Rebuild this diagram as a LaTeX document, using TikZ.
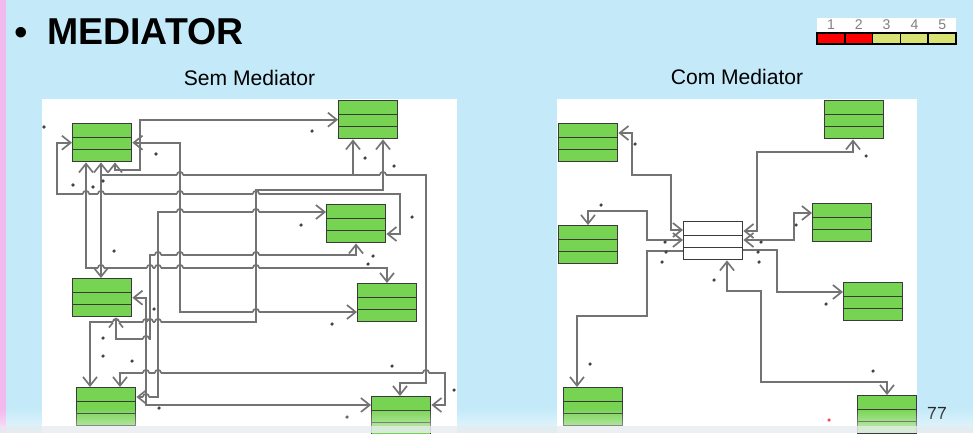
\documentclass[tikz,border=0pt]{standalone}
\usepackage{fontspec}
\setmainfont{Liberation Sans}
\usetikzlibrary{arrows.meta, calc}

\definecolor{slidebg}{HTML}{C4EAF9}
\definecolor{stripe}{HTML}{F2B9EE}
\definecolor{classgreen}{HTML}{77D452}
\definecolor{boxline}{HTML}{3A3A3A}
\definecolor{linkgray}{HTML}{737373}
\definecolor{dotgray}{HTML}{444444}
\definecolor{levelred}{HTML}{FF0000}
\definecolor{levelyellow}{HTML}{D8E374}
\definecolor{bottomband}{HTML}{E9EEF0}

% little jump where a connector crosses another
\newcommand\hop[2]{%
  \fill[white] (#1-3.4,#2-1.2) rectangle (#1+3.4,#2+1.2);
  \draw[link] (#1,#2-1.4) -- (#1,#2+1.4);
  \draw[link] (#1-3.2,#2) arc[start angle=180,end angle=0,radius=1.8pt];}

\begin{document}
\begin{tikzpicture}[x=0.02cm,y=-0.02cm,>={Straight Barb[length=5pt,width=8pt]},
  class node/.style={draw=boxline,fill=classgreen,line width=0.8pt,anchor=north west,
    inner sep=0pt,minimum width=1.18cm,minimum height=0.76cm,
    path picture={\draw[boxline,line width=0.8pt]
      ($(path picture bounding box.north west)!0.36!(path picture bounding box.south west)$) --
      ($(path picture bounding box.north east)!0.36!(path picture bounding box.south east)$)
      ($(path picture bounding box.north west)!0.68!(path picture bounding box.south west)$) --
      ($(path picture bounding box.north east)!0.68!(path picture bounding box.south east)$);}},
  mediator node/.style={class node,fill=white},
  link/.style={draw=linkgray,line width=0.95pt},
  heading/.style={font=\fontsize{12pt}{14pt}\selectfont,anchor=base}]
  \useasboundingbox (0,0) rectangle (973,433);
  % slide background
  \fill[slidebg] (0,0) rectangle (973,433);
  \fill[stripe] (0,0) rectangle (6,433);
  \fill[white] (42,99) rectangle (457,433);
  \fill[white] (557,99) rectangle (917,433);
  % title and level bar
  \node[font=\fontsize{22pt}{22pt}\selectfont,anchor=base,inner sep=0pt] (bullet) at (21,45) {•};
  \node[font=\bfseries\fontsize{21.3pt}{24pt}\selectfont,anchor=base west,inner sep=0pt] (title) at (47,44) {MEDIATOR};
  \fill[white] (817,18) rectangle (956,32);
  \foreach \i/\c/\n in {0/levelred/1,1/levelred/2,2/levelyellow/3,3/levelyellow/4,4/levelyellow/5} {
    \filldraw[fill=\c,draw=black,line width=0.9pt] ({817+\i*27.8},33) rectangle ({817+(\i+1)*27.8},44);
    \node[font=\fontsize{8pt}{9pt}\selectfont,text=black!50] (level\n) at ({831+\i*27.8},25) {\n};
  }
  \node[heading] (sem) at (249.5,85) {Sem Mediator};
  \node[heading] (com) at (737,84) {Com Mediator};

  % Sem Mediator
  \node[class node] (s1) at (72,123) {};
  \node[class node] (s2) at (338,100) {};
  \node[class node] (s3) at (326,204) {};
  \node[class node] (s4) at (72,278) {};
  \node[class node] (s5) at (357,283) {};
  \node[class node] (s6) at (76,387) {};
  \node[class node] (s7) at (371,396) {};
  \coordinate (sj) at (102,175);
  \coordinate (sk) at (353,175);
  \draw[link,<->] ($(s1.south west)+(43,0)$) |- (140,170) |- (s2.west);
  \draw[link,->] (sj) -| ($(s2.south west)+(15,0)$);
  \draw[link,->] (sk) -| (426,383) -| ($(s7.north west)+(29,0)$);
  \draw[link,<->] (s1.west) -| (57,194) -| (400,234) -- ($(s3.north east)+(0,30)$);
  \draw[link,<->] ($(s6.north west)+(44,0)$) |- (445,373) |- ($(s7.north east)+(0,9)$);
  \draw[link,<->] ($(s2.south west)+(45,0)$) |- (256,190) |- (90,322) -- ($(s6.north west)+(14,0)$);
  \draw[link,<->] ($(s3.north west)+(0,8)$) -| (158,397) -- ($(s6.north east)+(0,10)$);
  \draw[link,<->] ($(s3.south west)+(30,0)$) |- (150,255) |- (116,339) -- ($(s4.south west)+(44,0)$);
  \draw[link,<->] (s4.east) -| (146,405) -- ($(s7.north west)+(0,9)$);
  \draw[link,<->] ($(s1.south west)+(14,0)$) |- (387,268) -- ($(s5.north west)+(30,0)$);
  \draw[link,<->] (s1.east) -| (180,312) -- ($(s5.north west)+(0,29)$);
  \draw[link,<->] ($(s1.south west)+(29,0)$) -- ($(s4.north west)+(29,0)$);
  \foreach \x/\y in {180/175,383/175,86/194,101/194,180/194,256/194,180/212,256/212,
      158/255,180/255,256/255,101/268,150/268,158/268,180/268,256/268,256/312,
      116/322,146/322,150/322,158/322,146/339,146/373,158/373,426/373,146/397}
    \hop{\x}{\y};

  % Com Mediator
  \node[mediator node] (med) at (683,221) {};
  \node[class node] (c1) at (558,123) {};
  \node[class node] (c2) at (558,225) {};
  \node[class node] (c3) at (563,387) {};
  \node[class node] (c4) at (824,100) {};
  \node[class node] (c5) at (812,203) {};
  \node[class node] (c6) at (843,282) {};
  \node[class node] (c7) at (857,395) {};
  \draw[link,<->] ($(c1.north east)+(0,10)$) -| (632,175) -| (671,230) -- ($(med.north west)+(0,9)$);
  \draw[link,<->] ($(c2.north west)+(30,0)$) |- (647,211) |- ($(med.north west)+(0,19)$);
  \draw[link,->] ($(med.north west)+(0,30)$) -| (647,316) -| ($(c3.north west)+(14,0)$);
  \draw[link,<->] ($(med.north east)+(0,10)$) -| (757,152) -| ($(c4.south west)+(29,0)$);
  \draw[link,<->] ($(med.north east)+(0,19)$) -| (794,213) -- ($(c5.north west)+(0,10)$);
  \draw[link,->] ($(med.north east)+(0,29)$) -| (777,292) -- ($(c6.north west)+(0,10)$);
  \draw[link,<->] ($(med.south west)+(44,0)$) |- (761,291) |- (887,382) -- ($(c7.north west)+(30,0)$);

  % multiplicities
  \foreach \p in {(44,127),(156,154),(73,185),(93,187),(103,181),(114,251),(312,131),(365,158),
      (394,166),(301,225),(412,217),(373,256),(368,264),(332,324),(392,366),(454,390),(347,417),
      (154,309),(103,338),(103,356),(132,361),(159,408),
      (635,144),(601,205),(665,242),(666,252),(662,262),(714,280),(590,364),(866,156),(796,225),
      (761,242),(758,252),(759,262),(826,304),(873,371)}
    \fill[dotgray] \p circle[radius=1pt];
  \fill[red] (829,420) circle[radius=1pt];

  \node[font=\fontsize{10pt}{12pt}\selectfont,anchor=base,text=black!85] (page) at (937,419) {77};
  % faded bottom edge
  \foreach \k [evaluate=\k as \op using 0.05*\k] in {0,...,8}
    \fill[white,opacity=\op] (0,{408+2*\k}) rectangle (973,{410+2*\k});
  \fill[bottomband,opacity=0.85] (0,426) rectangle (973,433);
\end{tikzpicture}
\end{document}
